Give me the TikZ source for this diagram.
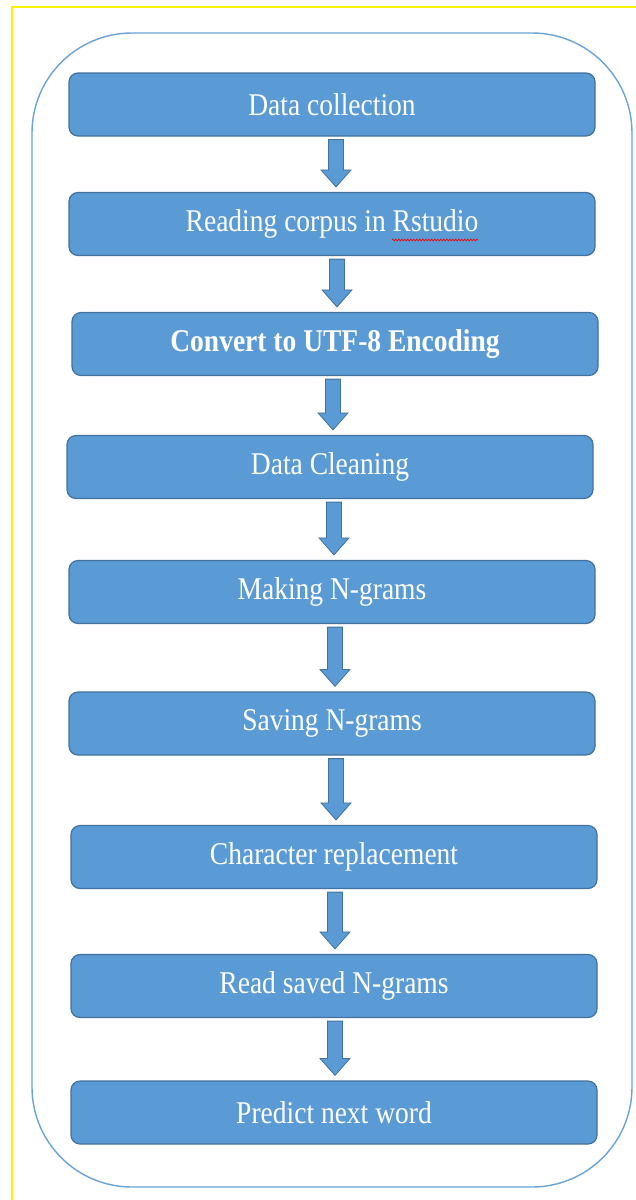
\documentclass[tikz,border=0pt]{standalone}
\usepackage{fontspec}
\usepackage{graphicx}
\setmainfont{Liberation Serif}
\usetikzlibrary{calc,decorations.pathmorphing}
\definecolor{boxfill}{HTML}{5B9BD5}
\definecolor{boxline}{HTML}{41719C}
\definecolor{outerline}{HTML}{6AA3D8}
\newcommand\stepfont{\fontsize{27.5}{30}\selectfont}
\newcommand\barrow[3]{%
  \draw[blockarr] let \p1=(#1.south), \p2=(#2.north) in
    (#3pt-7.5pt,\y1-3pt) -- (#3pt+7.5pt,\y1-3pt) -- (#3pt+7.5pt,\y2+22pt)
    -- (#3pt+15pt,\y2+22pt) -- (#3pt,\y2+5pt) -- (#3pt-15pt,\y2+22pt)
    -- (#3pt-7.5pt,\y2+22pt) -- cycle;}
\tikzset{
  stepbox/.style={draw=boxline, fill=boxfill, line width=1.2pt, rounded corners=9pt,
    minimum width=526pt, minimum height=63pt, inner sep=0pt, text=white,
    font=\stepfont},
  blockarr/.style={draw=boxline, fill=boxfill, line width=0.8pt, line join=miter},
  outerframe/.style={draw=outerline, line width=1.4pt, rounded corners=100pt},
  yellowframe/.style={draw=yellow, line width=2.6pt},
}
\newcommand\tall[1]{\raisebox{-2pt}{\scalebox{1}[1.15]{#1}}}
\begin{document}
\begin{tikzpicture}[x=1pt,y=1pt]
\useasboundingbox (0,0) rectangle (636,-1200);
\fill[white] (0,0) rectangle (636,-1200);
\draw[yellowframe] (12,-1200) -- (12,-7) -- (636,-7);
\draw[outerframe] (32,-33) rectangle (632,-1187);

\node[stepbox] (n1) at (332,-104.5) {\tall{Data collection}};
\node[stepbox] (n2) at (332,-224) {\tall{Reading corpus in Rstudio}};
\node[stepbox] (n3) at (335,-344) {\tall{\bfseries Convert to UTF-8 Encoding}};
\node[stepbox] (n4) at (330,-467) {\tall{Data Cleaning}};
\node[stepbox] (n5) at (332,-592) {\tall{Making N-grams}};
\node[stepbox] (n6) at (332,-723.5) {\tall{Saving N-grams}};
\node[stepbox] (n7) at (334,-857) {\tall{Character replacement}};
\node[stepbox] (n8) at (334,-986) {\tall{Read saved N-grams}};
\node[stepbox] (n9) at (334,-1112.5) {\tall{Predict next word}};

\draw[red, line width=0.7pt, decorate, decoration={zigzag, segment length=3pt, amplitude=0.9pt}]
  (392,-240) -- (478,-240);

\barrow{n1}{n2}{336}
\barrow{n2}{n3}{337}
\barrow{n3}{n4}{333}
\barrow{n4}{n5}{334}
\barrow{n5}{n6}{335}
\barrow{n6}{n7}{336}
\barrow{n7}{n8}{335}
\barrow{n8}{n9}{335}
\end{tikzpicture}
\end{document}
